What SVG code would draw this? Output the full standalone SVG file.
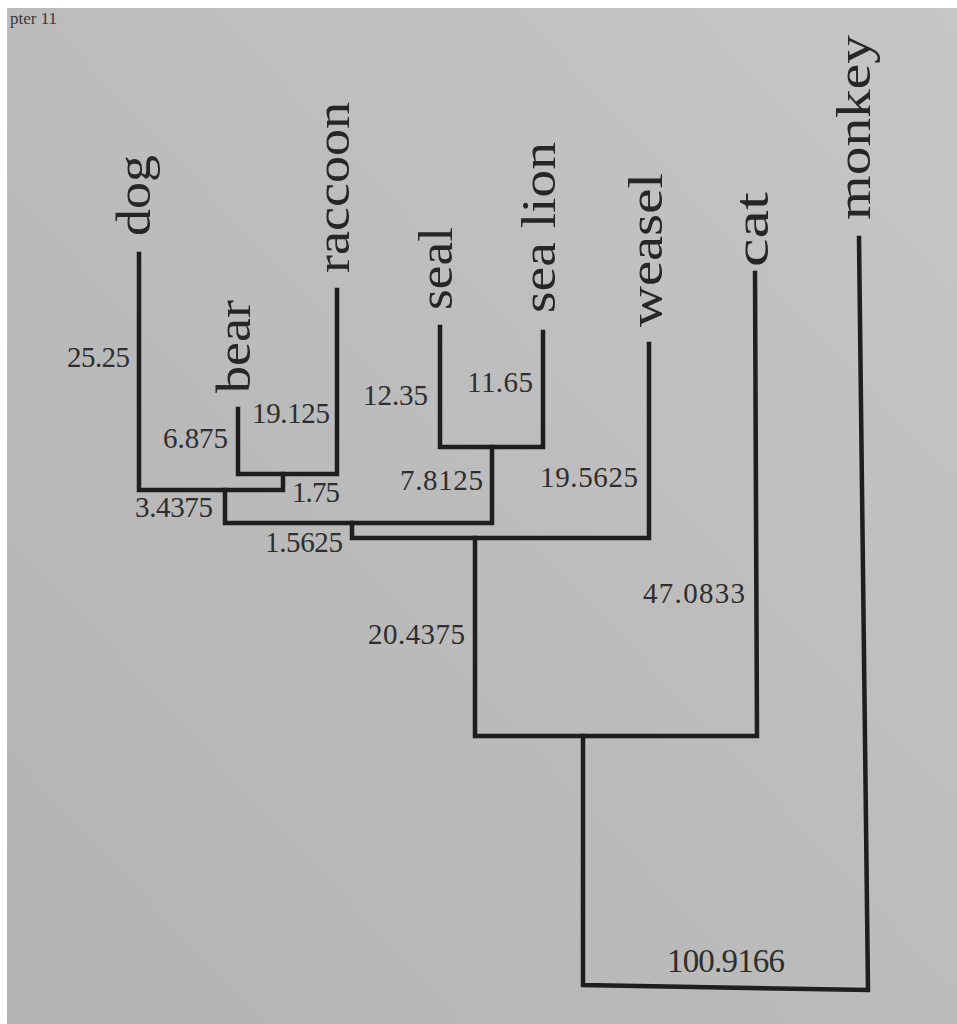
<svg xmlns="http://www.w3.org/2000/svg" width="957" height="1024" viewBox="0 0 957 1024">
<defs>
<linearGradient id="page" x1="1" y1="0" x2="0" y2="1">
<stop offset="0" stop-color="#c6c6c6"/>
<stop offset="0.5" stop-color="#bcbcbc"/>
<stop offset="1" stop-color="#b3b3b3"/>
</linearGradient>
<style>
.edge{fill:none;stroke:#1e1e1e;stroke-width:4.5;stroke-linejoin:miter;stroke-linecap:square}
.leaf{font-family:"Liberation Serif",serif;font-size:48px;fill:#262626}
.num{font-family:"Liberation Serif",serif;font-size:29px;fill:#2e2e2e}
.hdr{font-family:"Liberation Serif",serif;font-size:17px;fill:#3a3a3a}
</style>
</defs>
<rect x="0" y="0" width="957" height="1024" fill="#ffffff"/>
<rect x="7" y="8" width="950" height="1016" fill="url(#page)"/>
<text class="hdr" x="10" y="24">pter 11</text>

<g id="connectors">
<path class="edge" d="M238,409 V474 H337 V290"/>
<path class="edge" d="M139,254 V490 H283 V474"/>
<path class="edge" d="M440,327 V447 H543 V332"/>
<path class="edge" d="M225,490 V523 H492 V447"/>
<path class="edge" d="M352,523 V538 H649 V344"/>
<path class="edge" d="M475,538 V736 H757 L755,273"/>
<path class="edge" d="M583,736 V985 L868,990 L859,238"/>
</g>

<g id="dog"><text class="leaf" transform="translate(150,236) rotate(-90)" textLength="81" lengthAdjust="spacingAndGlyphs">dog</text></g>
<g id="bear"><text class="leaf" transform="translate(250,393) rotate(-90)" textLength="93" lengthAdjust="spacingAndGlyphs">bear</text></g>
<g id="raccoon"><text class="leaf" transform="translate(349,273) rotate(-90)" textLength="171" lengthAdjust="spacingAndGlyphs">raccoon</text></g>
<g id="seal"><text class="leaf" transform="translate(452,310) rotate(-90)" textLength="83" lengthAdjust="spacingAndGlyphs">seal</text></g>
<g id="sea-lion"><text class="leaf" transform="translate(555,313) rotate(-90)" textLength="171" lengthAdjust="spacingAndGlyphs">sea lion</text></g>
<g id="weasel"><text class="leaf" transform="translate(662,327) rotate(-90)" textLength="154" lengthAdjust="spacingAndGlyphs">weasel</text></g>
<g id="cat"><text class="leaf" transform="translate(768,267) rotate(-90)" textLength="75" lengthAdjust="spacingAndGlyphs">cat</text></g>
<g id="monkey"><text class="leaf" transform="translate(870,220) rotate(-90)" textLength="185" lengthAdjust="spacingAndGlyphs">monkey</text></g>

<g id="branch-lengths">
<text class="num" x="67" y="367" textLength="63">25.25</text>
<text class="num" x="163" y="448" textLength="65">6.875</text>
<text class="num" x="252" y="423" textLength="78">19.125</text>
<text class="num" x="292" y="502" textLength="48">1.75</text>
<text class="num" x="135" y="517" textLength="78">3.4375</text>
<text class="num" x="265" y="552" textLength="78">1.5625</text>
<text class="num" x="363" y="405" textLength="65">12.35</text>
<text class="num" x="467" y="392" textLength="66">11.65</text>
<text class="num" x="400" y="490" textLength="83">7.8125</text>
<text class="num" x="540" y="487" textLength="98">19.5625</text>
<text class="num" x="368" y="644" textLength="97">20.4375</text>
<text class="num" x="643" y="603" textLength="102">47.0833</text>
<text class="num" x="667" y="972" style="font-size:33px" textLength="118">100.9166</text>
</g>
</svg>
